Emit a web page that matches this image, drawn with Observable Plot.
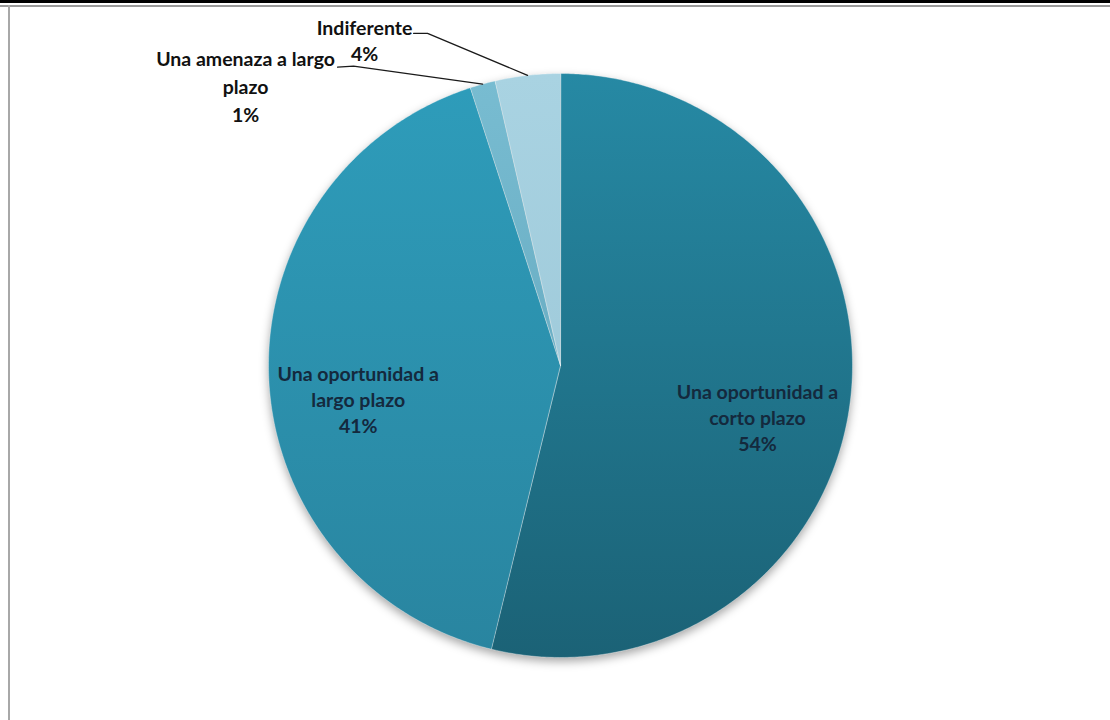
<!DOCTYPE html>
<html>
<head>
<meta charset="utf-8">
<script src="https://cdn.jsdelivr.net/npm/d3@7"></script>
<script src="https://cdn.jsdelivr.net/npm/@observablehq/plot@0.6"></script>
<style>
  html, body { margin: 0; padding: 0; background: #fff; }
  #wrap { position: relative; width: 1110px; height: 720px; overflow: hidden; background: #fff; }
  #chart { position: absolute; left: 0; top: 0; }
  .rule { position: absolute; pointer-events: none; }
</style>
</head>
<body>
<div id="wrap">
  <div id="chart"></div>
  <div class="rule" style="left:0;top:0;width:1110px;height:3px;background:#000;"></div>
  <div class="rule" style="left:0;top:5px;width:1110px;height:2px;background:#9a9a9a;"></div>
  <div class="rule" style="left:8px;top:5px;width:2px;height:715px;background:#a8a8a8;"></div>
</div>
<script>
// ---- data ----
const categories = ["Una oportunidad a corto plazo", "Una oportunidad a largo plazo", "Una amenaza a largo plazo", "Indiferente"];
const labelText = ["Una oportunidad a\ncorto plazo", "Una oportunidad a\nlargo plazo", "Una amenaza a largo\nplazo", "Indiferente"];
const shares = [53.8, 41.2, 1.4, 3.6];
const topColors = ["#2689a4", "#2e9cba", "#78bcd1", "#a9d3e2"];
const bottomColors = ["#1b6276", "#2985a0", "#6aaec4", "#a0cbdb"];

// ---- layout ----
const W = 1110, H = 720, CX = 560, CY = 365, R = 292, FS = 19.5;
const pie = d3.pie().sort(null).value(d => d)(shares);
const pt = (a, r) => ({x: r * Math.sin(a), y: r * Math.cos(a)});

const slicePts = [];
const ringPts = [];
pie.forEach((p, i) => {
  slicePts.push({slice: i, ...pt(0, 0)});
  const n = Math.max(4, Math.ceil((p.endAngle - p.startAngle) / (Math.PI / 360)));
  for (let k = 0; k <= n; k++) {
    const a = p.startAngle + (p.endAngle - p.startAngle) * k / n;
    const q = pt(a, 1);
    slicePts.push({slice: i, ...q});
    ringPts.push(q);
  }
});

const pct = shares.map(v => Math.round(v) + "%");
const mid = pie.map(p => (p.startAngle + p.endAngle) / 2);

const inner = [0, 1].map(i => ({...pt(mid[i], 0.7), text: labelText[i] + "\n" + pct[i], dx: i === 0 ? -6 : 2}));
const edge = i => pt(mid[i], 1);

// leader lines (offsets in px from slice edge)
const px = v => v / R;
const leader = (i, offs) => offs.map(([dx, dy]) => ({x: edge(i).x + px(dx), y: edge(i).y - px(dy), i}));
const leaders = [
  ...leader(3, [[-114, -42], [-100, -42], [0, 0]]),
  ...leader(2, [[-145, -17], [-129, -18], [0, 0]])
];

const plot = Plot.plot({
  width: W, height: H, margin: 0,
  x: {domain: [-CX / R, (W - CX) / R], axis: null},
  y: {domain: [-(H - CY) / R, CY / R], axis: null},
  style: {fontFamily: "Lato, 'Open Sans', sans-serif", fontSize: FS + "px", background: "white"},
  marks: [
    Plot.line(ringPts, {x: "x", y: "y", curve: "linear-closed", fill: "#000", fillOpacity: 0.35, stroke: "none"}),
    ...pie.map((p, i) => Plot.line(slicePts.filter(d => d.slice === i), {
      x: "x", y: "y", curve: "linear-closed",
      fill: `url(#grad${i})`, stroke: "white", strokeOpacity: 0.35, strokeWidth: 1
    })),
    Plot.line(leaders, {x: "x", y: "y", z: "i", stroke: "#1a1a1a", strokeWidth: 1.3}),
    Plot.text(inner.slice(0, 1), {x: "x", y: "y", text: "text", dx: -6, dy: 27, fill: "#14293d", fontWeight: "bold", lineHeight: 26 / FS, textAnchor: "middle"}),
    Plot.text(inner.slice(1, 2), {x: "x", y: "y", text: "text", dx: 2, dy: 25, fill: "#14293d", fontWeight: "bold", lineHeight: 26 / FS, textAnchor: "middle"}),
    Plot.text([edge(3)], {x: "x", y: "y", text: () => labelText[3] + "\n" + pct[3], dx: -163, dy: -36, fill: "#111", fontWeight: "bold", lineHeight: 26 / FS}),
    Plot.text([edge(2)], {x: "x", y: "y", text: () => labelText[2] + "\n" + pct[2], dx: -237, dy: 1, fill: "#111", fontWeight: "bold", lineHeight: 28 / FS})
  ]
});

// gradients + shadow filter
const svg = d3.select(plot);
const defs = svg.insert("defs", ":first-child");
topColors.forEach((c, i) => {
  const g = defs.append("linearGradient").attr("id", `grad${i}`).attr("x1", 0).attr("y1", 0).attr("x2", 0).attr("y2", 1);
  g.append("stop").attr("offset", "0%").attr("stop-color", c);
  g.append("stop").attr("offset", "100%").attr("stop-color", bottomColors[i]);
});
const f = defs.append("filter").attr("id", "shadow").attr("x", "-10%").attr("y", "-10%").attr("width", "120%").attr("height", "120%");
f.append("feOffset").attr("in", "SourceGraphic").attr("dx", 0).attr("dy", 4).attr("result", "o");
f.append("feGaussianBlur").attr("in", "o").attr("stdDeviation", 5);
svg.select("g[aria-label='line']").attr("filter", "url(#shadow)");

document.getElementById("chart").appendChild(plot);
</script>
</body>
</html>
